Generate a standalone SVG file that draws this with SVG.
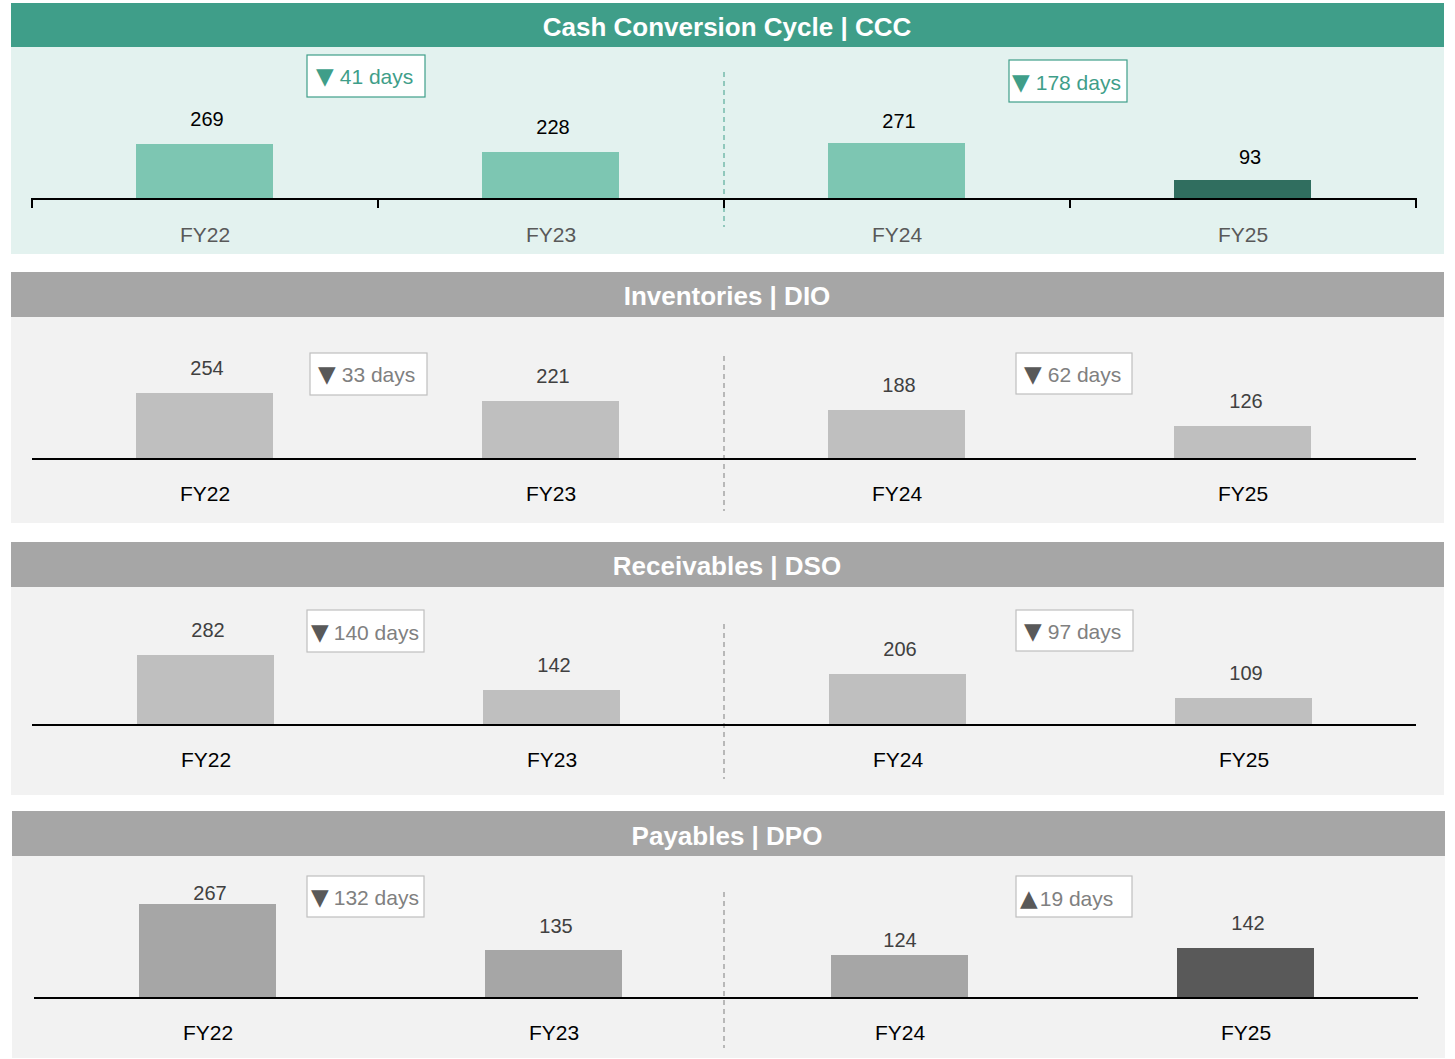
<svg xmlns="http://www.w3.org/2000/svg" width="1455" height="1059" viewBox="0 0 1455 1059">
<style>
text{font-family:"Liberation Sans","Noto Sans",sans-serif;}
.title{fill:#fff;font-weight:bold;font-size:26px;text-anchor:middle;}
.val{font-size:20px;text-anchor:middle;fill:#404040;}
.cat{font-size:21px;text-anchor:middle;fill:#000;}
.catg{fill:#595959;}
.axis{stroke:#000;stroke-width:2;fill:none;}
.div{stroke:#7f7f7f;stroke-width:1;stroke-dasharray:5,4;}
.divt{stroke:#3f9e89;stroke-width:1;stroke-dasharray:5,4;}
.badge{fill:#fff;stroke:#bfbfbf;stroke-width:1.2;}
.badget{fill:#fff;stroke:#3f9e89;stroke-width:1.2;}
.bt{font-size:21px;fill:#808080;}
.btt{font-size:21px;fill:#3f9e89;}
.tri{font-family:"DejaVu Sans",sans-serif;font-size:23px;fill:#595959;}
.trit{font-family:"DejaVu Sans",sans-serif;font-size:23px;fill:#3f9e89;}
.teal{fill:#7dc6b2;}
.tealdk{fill:#306e5f;}
.lg{fill:#bfbfbf;}
.mg{fill:#a6a6a6;}
.dg{fill:#595959;}
</style>

<g id="panel-ccc">
<rect x="11" y="3" width="1433" height="44" fill="#3f9e89"/>
<rect x="11" y="47" width="1433" height="207" fill="#e3f2ef"/>
<text class="title" x="727" y="36">Cash Conversion Cycle | CCC</text>
</g>
<g id="panel-dio">
<rect x="11" y="272" width="1433" height="45" fill="#a6a6a6"/>
<rect x="11" y="317" width="1433" height="206" fill="#f2f2f2"/>
<text class="title" x="727" y="305">Inventories | DIO</text>
</g>
<g id="panel-dso">
<rect x="11" y="542" width="1433" height="45" fill="#a6a6a6"/>
<rect x="11" y="587" width="1433" height="208" fill="#f2f2f2"/>
<text class="title" x="727" y="575">Receivables | DSO</text>
</g>
<g id="panel-dpo">
<rect x="12" y="811" width="1433" height="45" fill="#a6a6a6"/>
<rect x="12" y="856" width="1433" height="202" fill="#f2f2f2"/>
<text class="title" x="727" y="845">Payables | DPO</text>
</g>

<g id="connectors">
<line class="divt" x1="724" y1="72" x2="724" y2="227"/>
<line class="div" x1="724" y1="356" x2="724" y2="511"/>
<line class="div" x1="724" y1="624" x2="724" y2="779"/>
<line class="div" x1="724" y1="892" x2="724" y2="1048"/>
</g>

<g id="ccc-bars">
<rect class="teal" x="136" y="144" width="137" height="55"/>
<rect class="teal" x="482" y="152" width="137" height="47"/>
<rect class="teal" x="828" y="143" width="137" height="56"/>
<rect class="tealdk" x="1174" y="180" width="137" height="19"/>
<path class="axis" d="M32,208 V199 H1416 V208 M378,199 V208 M724,199 V208 M1070,199 V208"/>
<text class="val" x="207" y="126" style="fill:#000">269</text>
<text class="val" x="553" y="134" style="fill:#000">228</text>
<text class="val" x="899" y="128" style="fill:#000">271</text>
<text class="val" x="1250" y="164" style="fill:#000">93</text>
<text class="cat catg" x="205" y="242">FY22</text>
<text class="cat catg" x="551" y="242">FY23</text>
<text class="cat catg" x="897" y="242">FY24</text>
<text class="cat catg" x="1243" y="242">FY25</text>
</g>
<g id="ccc-badge-1">
<rect class="badget" x="307" y="55" width="118" height="42"/>
<text x="316" y="84"><tspan class="trit">▼</tspan><tspan class="btt" dx="6">41 days</tspan></text>
</g>
<g id="ccc-badge-2">
<rect class="badget" x="1009" y="60" width="118" height="42"/>
<text x="1012" y="90"><tspan class="trit">▼</tspan><tspan class="btt" dx="6">178 days</tspan></text>
</g>

<g id="dio-bars">
<rect class="lg" x="136" y="393" width="137" height="66"/>
<rect class="lg" x="482" y="401" width="137" height="58"/>
<rect class="lg" x="828" y="410" width="137" height="49"/>
<rect class="lg" x="1174" y="426" width="137" height="33"/>
<line class="axis" x1="32" y1="459" x2="1416" y2="459"/>
<text class="val" x="207" y="375">254</text>
<text class="val" x="553" y="383">221</text>
<text class="val" x="899" y="392">188</text>
<text class="val" x="1246" y="408">126</text>
<text class="cat" x="205" y="501">FY22</text>
<text class="cat" x="551" y="501">FY23</text>
<text class="cat" x="897" y="501">FY24</text>
<text class="cat" x="1243" y="501">FY25</text>
</g>
<g id="dio-badge-1">
<rect class="badge" x="310" y="353" width="117" height="42"/>
<text x="318" y="382"><tspan class="tri">▼</tspan><tspan class="bt" dx="6">33 days</tspan></text>
</g>
<g id="dio-badge-2">
<rect class="badge" x="1016" y="353" width="116" height="41"/>
<text x="1024" y="382"><tspan class="tri">▼</tspan><tspan class="bt" dx="6">62 days</tspan></text>
</g>

<g id="dso-bars">
<rect class="lg" x="137" y="655" width="137" height="70"/>
<rect class="lg" x="483" y="690" width="137" height="35"/>
<rect class="lg" x="829" y="674" width="137" height="51"/>
<rect class="lg" x="1175" y="698" width="137" height="27"/>
<line class="axis" x1="32" y1="725" x2="1416" y2="725"/>
<text class="val" x="208" y="637">282</text>
<text class="val" x="554" y="672">142</text>
<text class="val" x="900" y="656">206</text>
<text class="val" x="1246" y="680">109</text>
<text class="cat" x="206" y="767">FY22</text>
<text class="cat" x="552" y="767">FY23</text>
<text class="cat" x="898" y="767">FY24</text>
<text class="cat" x="1244" y="767">FY25</text>
</g>
<g id="dso-badge-1">
<rect class="badge" x="307" y="610" width="117" height="42"/>
<text x="311" y="640"><tspan class="tri">▼</tspan><tspan class="bt" dx="5">140 days</tspan></text>
</g>
<g id="dso-badge-2">
<rect class="badge" x="1016" y="610" width="117" height="41"/>
<text x="1024" y="639"><tspan class="tri">▼</tspan><tspan class="bt" dx="6">97 days</tspan></text>
</g>

<g id="dpo-bars">
<rect class="mg" x="139" y="904" width="137" height="94"/>
<rect class="mg" x="485" y="950" width="137" height="48"/>
<rect class="mg" x="831" y="955" width="137" height="43"/>
<rect class="dg" x="1177" y="948" width="137" height="50"/>
<line class="axis" x1="34" y1="998" x2="1418" y2="998"/>
<text class="val" x="210" y="900">267</text>
<text class="val" x="556" y="933">135</text>
<text class="val" x="900" y="947">124</text>
<text class="val" x="1248" y="930">142</text>
<text class="cat" x="208" y="1040">FY22</text>
<text class="cat" x="554" y="1040">FY23</text>
<text class="cat" x="900" y="1040">FY24</text>
<text class="cat" x="1246" y="1040">FY25</text>
</g>
<g id="dpo-badge-1">
<rect class="badge" x="307" y="876" width="117" height="41"/>
<text x="311" y="905"><tspan class="tri">▼</tspan><tspan class="bt" dx="5">132 days</tspan></text>
</g>
<g id="dpo-badge-2">
<rect class="badge" x="1016" y="876" width="116" height="41"/>
<text x="1020" y="906"><tspan class="tri">▲</tspan><tspan class="bt" dx="2">19 days</tspan></text>
</g>
</svg>
